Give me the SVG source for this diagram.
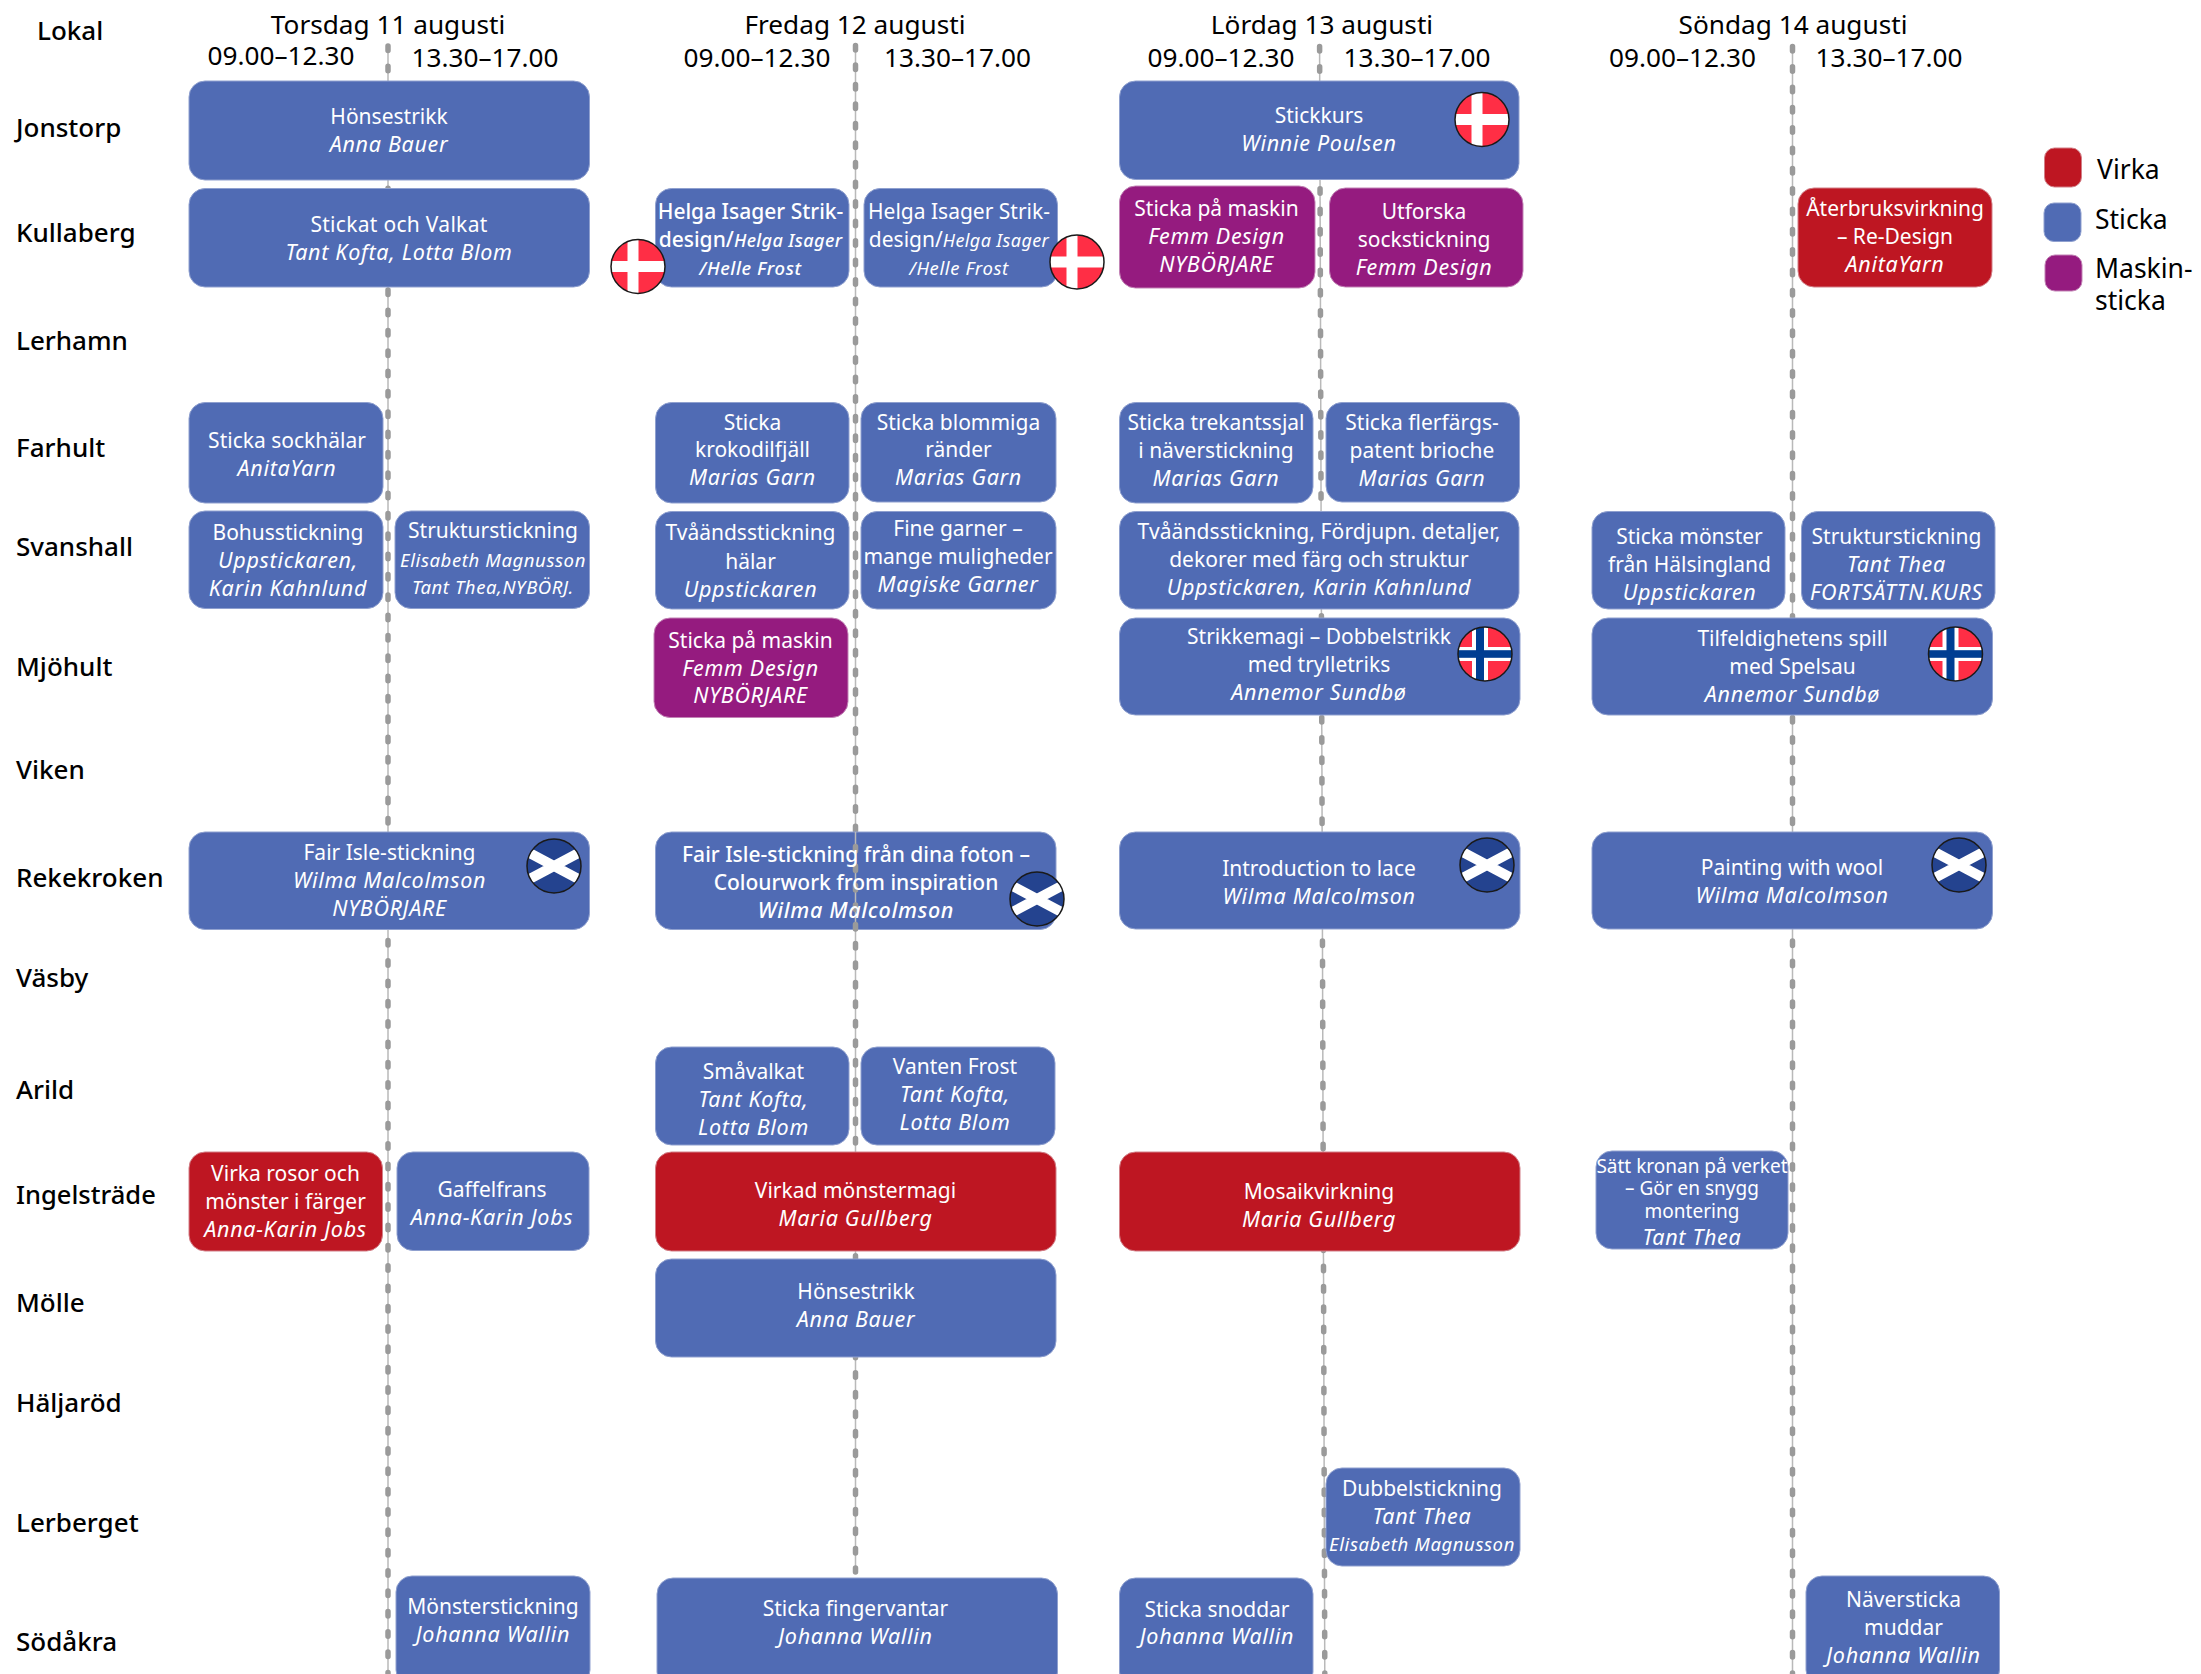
<svg xmlns="http://www.w3.org/2000/svg" width="2201" height="1674" viewBox="0 0 2201 1674">
<style>
text{font-family:"Noto Sans","Open Sans","Liberation Sans",sans-serif}
.h{font-size:26.2px;fill:#000;text-anchor:middle}
.r{font-size:26px;font-weight:500;fill:#000}
.l{font-size:26.5px;fill:#000}
.n text{font-size:21px;fill:#fff;text-anchor:middle}
.n .i{font-style:italic;font-size:21.5px;letter-spacing:.7px}
.n .m{font-weight:500}
.n .s{font-size:18.5px;letter-spacing:.6px}
.n .q{font-size:19px}
.b{fill:#506bb4;stroke:#8fa0cf;stroke-width:1}
.v{fill:#be1622;stroke:#d27f87;stroke-width:1}
.p{fill:#951b7f;stroke:#c283b5;stroke-width:1}
.ln{stroke:#b9b9b9;stroke-width:1.5;fill:none}
.ds{stroke:#9a9a9a;stroke-width:5.5;stroke-linecap:round;stroke-dasharray:4.5 15.83;fill:none}
.d2{stroke-dasharray:4.5 15.02}
.fl{stroke:#1a1a1a;stroke-width:1.5;fill:none}
</style>
<defs>
<clipPath id="cc"><circle r="27"/></clipPath>
<g id="dk"><g clip-path="url(#cc)"><rect x="-28" y="-28" width="56" height="56" fill="#ff2e45"/><rect x="-10.500" y="-28" width="11" height="56" fill="#fff"/><rect x="-28" y="-5.500" width="56" height="11" fill="#fff"/></g><circle r="27" class="fl"/></g>
<g id="no"><g clip-path="url(#cc)"><rect x="-28" y="-28" width="56" height="56" fill="#ff2e45"/><rect x="-13" y="-28" width="16" height="56" fill="#fff"/><rect x="-28" y="-7" width="56" height="14" fill="#fff"/><rect x="-9" y="-28" width="8" height="56" fill="#003e92"/><rect x="-28" y="-3.800" width="56" height="7.600" fill="#003e92"/></g><circle r="27" class="fl"/></g>
<g id="sc"><g clip-path="url(#cc)"><rect x="-28" y="-28" width="56" height="56" fill="#24438f"/><path d="M-30,-16 L30,16 M-30,16 L30,-16" stroke="#fff" stroke-width="10" fill="none"/></g><circle r="27" class="fl"/></g>
</defs>
<rect width="2201" height="1674" fill="#fff"/>

<g id="connectors">
<path class="ln" d="M388,44V1674"/><path class="ds" d="M388,46V1674"/>
<path class="ln" d="M855.500,44V1572"/><path class="ds d2" d="M855.500,45.500V1572"/>
<path class="ln" d="M1319.600,44L1324.800,1674"/><path class="ds" d="M1319.600,46.500L1324.800,1674"/>
<path class="ln" d="M1792.500,44V1674"/><path class="ds" d="M1792.500,46.500V1674"/>
</g>

<g id="headers">
<text class="r" x="37" y="40">Lokal</text>
<text class="h" x="388" y="34">Torsdag 11 augusti</text><text class="h" x="281" y="65">09.00–12.30</text><text class="h" x="485" y="67">13.30–17.00</text>
<text class="h" x="855" y="34">Fredag 12 augusti</text><text class="h" x="757" y="67">09.00–12.30</text><text class="h" x="957.500" y="67">13.30–17.00</text>
<text class="h" x="1322" y="34">Lördag 13 augusti</text><text class="h" x="1221" y="67">09.00–12.30</text><text class="h" x="1417" y="67">13.30–17.00</text>
<text class="h" x="1793" y="34">Söndag 14 augusti</text><text class="h" x="1682.500" y="67">09.00–12.30</text><text class="h" x="1889" y="67">13.30–17.00</text>
</g>
<g id="rows">
<text class="r" x="16" y="137">Jonstorp</text>
<text class="r" x="16" y="242">Kullaberg</text>
<text class="r" x="16" y="350">Lerhamn</text>
<text class="r" x="16" y="456.500">Farhult</text>
<text class="r" x="16" y="556">Svanshall</text>
<text class="r" x="16" y="676">Mjöhult</text>
<text class="r" x="16" y="778.500">Viken</text>
<text class="r" x="16" y="887">Rekekroken</text>
<text class="r" x="16" y="987">Väsby</text>
<text class="r" x="16" y="1099">Arild</text>
<text class="r" x="16" y="1204" style="font-size:25.5px">Ingelsträde</text>
<text class="r" x="16" y="1312">Mölle</text>
<text class="r" x="16" y="1412">Häljaröd</text>
<text class="r" x="16" y="1532">Lerberget</text>
<text class="r" x="16" y="1651">Södåkra</text>
</g>

<g id="n01" class="n"><rect class="b" x="189" y="81" width="400.500" height="99" rx="16"/><text x="389" y="124">Hönsestrikk</text><text class="i" x="389" y="151.500">Anna Bauer</text></g>
<g id="n02" class="n"><rect class="b" x="189" y="188.500" width="400.500" height="98.500" rx="16"/><text x="399" y="231.500" style="letter-spacing:.3px">Stickat och Valkat</text><text class="i" x="399" y="259.500">Tant Kofta, Lotta Blom</text></g>
<g id="n03" class="n"><rect class="b" x="189" y="402.500" width="194" height="100.500" rx="16"/><text x="287" y="447.500">Sticka sockhälar</text><text class="i" x="287" y="475.500">AnitaYarn</text></g>
<g id="n04" class="n"><rect class="b" x="189" y="511" width="194" height="97.500" rx="16"/><text x="288" y="540">Bohusstickning</text><text class="i" x="288" y="568">Uppstickaren,</text><text class="i" x="288" y="596">Karin Kahnlund</text></g>
<g id="n05" class="n"><rect class="b" x="395" y="511" width="194.500" height="97.500" rx="16"/><text x="493" y="538">Strukturstickning</text><text class="i s" x="493" y="566.500">Elisabeth Magnusson</text><text class="i s" x="493" y="594">Tant Thea,NYBÖRJ.</text></g>
<g id="n06" class="n"><rect class="b" x="189" y="832" width="400.500" height="97.500" rx="16"/><text x="389.500" y="860">Fair Isle-stickning</text><text class="i" x="389.500" y="888">Wilma Malcolmson</text><text class="i" x="389.500" y="916">NYBÖRJARE</text><use href="#sc" x="554" y="866"/></g>
<g id="n07" class="n"><rect class="v" x="189" y="1152" width="193.500" height="99" rx="16"/><text x="285.500" y="1180.500">Virka rosor och</text><text x="285.500" y="1208.500">mönster i färger</text><text class="i" x="285.500" y="1236.500">Anna-Karin Jobs</text></g>
<g id="n08" class="n"><rect class="b" x="397" y="1152" width="192" height="98.500" rx="16"/><text x="492" y="1196.500">Gaffelfrans</text><text class="i" x="492" y="1224.500">Anna-Karin Jobs</text></g>
<g id="n09" class="n"><rect class="b" x="396" y="1576" width="194" height="110" rx="16"/><text x="493" y="1614">Mönsterstickning</text><text class="i" x="493" y="1642">Johanna Wallin</text></g>

<g id="n10" class="n"><rect class="b" x="655.500" y="188.500" width="193.500" height="98.500" rx="16"/><text class="m" x="750.500" y="218.500">Helga Isager Strik-</text><text x="750.500" y="247"><tspan class="m">design/</tspan><tspan class="i m" style="font-size:18px;letter-spacing:.4px">Helga Isager</tspan></text><text class="i m s" x="750.500" y="274.500">/Helle Frost</text><use href="#dk" x="638" y="266.500"/></g>
<g id="n11" class="n"><rect class="b" x="864" y="188.500" width="193.500" height="98.500" rx="16"/><text x="959" y="218.500">Helga Isager Strik-</text><text x="959" y="247">design/<tspan class="i" style="font-size:18px;letter-spacing:.4px">Helga Isager</tspan></text><text class="i s" x="959" y="274.500">/Helle Frost</text><use href="#dk" x="1077" y="262"/></g>
<g id="n12" class="n"><rect class="b" x="655.500" y="402.500" width="193.500" height="100.500" rx="16"/><text x="752.500" y="429.500">Sticka</text><text x="752.500" y="457">krokodilfjäll</text><text class="i" x="752.500" y="485">Marias Garn</text></g>
<g id="n13" class="n"><rect class="b" x="861" y="402.500" width="195" height="99.500" rx="16"/><text x="958.500" y="429.500">Sticka blommiga</text><text x="958.500" y="457">ränder</text><text class="i" x="958.500" y="485">Marias Garn</text></g>
<g id="n14" class="n"><rect class="b" x="655.500" y="511.500" width="193.500" height="97.500" rx="16"/><text x="750.500" y="540">Tvåändsstickning</text><text x="750.500" y="568.500">hälar</text><text class="i" x="750.500" y="596.500">Uppstickaren</text></g>
<g id="n15" class="n"><rect class="b" x="861" y="511.500" width="195" height="97.500" rx="16"/><text x="958" y="535.500">Fine garner –</text><text x="958" y="563.500">mange muligheder</text><text class="i" x="958" y="591.500">Magiske Garner</text></g>
<g id="n16" class="n"><rect class="p" x="654" y="618" width="194" height="99.500" rx="16"/><text x="750.500" y="647.500">Sticka på maskin</text><text class="i" x="750.500" y="675.500">Femm Design</text><text class="i" x="750.500" y="703">NYBÖRJARE</text></g>
<g id="n17" class="n"><rect class="b" x="655.500" y="832" width="400.500" height="97.500" rx="16"/><path class="ln" d="M855.500,832V929"/><path class="ds d2" d="M855.500,846.500V929"/><text class="m" x="856" y="862">Fair Isle-stickning från dina foton –</text><text class="m" x="856" y="890">Colourwork from inspiration</text><text class="i m" x="856" y="918">Wilma Malcolmson</text><use href="#sc" x="1037" y="899"/></g>
<g id="n18" class="n"><rect class="b" x="655.500" y="1047" width="193.500" height="98" rx="16"/><text x="753.500" y="1078.500">Småvalkat</text><text class="i" x="753.500" y="1106.500">Tant Kofta,</text><text class="i" x="753.500" y="1135">Lotta Blom</text></g>
<g id="n19" class="n"><rect class="b" x="861" y="1047" width="194" height="98" rx="16"/><text x="955" y="1074">Vanten Frost</text><text class="i" x="955" y="1102">Tant Kofta,</text><text class="i" x="955" y="1130">Lotta Blom</text></g>
<g id="n20" class="n"><rect class="v" x="655.500" y="1152" width="400.500" height="99" rx="16"/><text x="855.500" y="1197.500">Virkad mönstermagi</text><text class="i" x="855.500" y="1225.500">Maria Gullberg</text></g>
<g id="n21" class="n"><rect class="b" x="655.500" y="1259" width="400.500" height="98" rx="16"/><text x="856" y="1299">Hönsestrikk</text><text class="i" x="856" y="1326.500">Anna Bauer</text></g>
<g id="n22" class="n"><rect class="b" x="657" y="1578" width="400.500" height="110" rx="16"/><text x="855.500" y="1616">Sticka fingervantar</text><text class="i" x="855.500" y="1644">Johanna Wallin</text></g>

<g id="n23" class="n"><rect class="b" x="1119.500" y="81" width="399.500" height="98.500" rx="16"/><text x="1319" y="123">Stickkurs</text><text class="i" x="1319" y="151">Winnie Poulsen</text><use href="#dk" x="1482" y="119.500"/></g>
<g id="n24" class="n"><rect class="p" x="1119.500" y="186" width="195.500" height="102" rx="16"/><text x="1216.500" y="216">Sticka på maskin</text><text class="i" x="1216.500" y="244">Femm Design</text><text class="i" x="1216.500" y="272">NYBÖRJARE</text></g>
<g id="n25" class="n"><rect class="p" x="1329.500" y="188" width="193.500" height="99" rx="16"/><text x="1424" y="218.500">Utforska</text><text x="1424" y="246.500">sockstickning</text><text class="i" x="1424" y="274.500">Femm Design</text></g>
<g id="n26" class="n"><rect class="b" x="1119.500" y="402.500" width="193.500" height="100.500" rx="16"/><text x="1216" y="429.500">Sticka trekantssjal</text><text x="1216" y="457.500">i näverstickning</text><text class="i" x="1216" y="485.500">Marias Garn</text></g>
<g id="n27" class="n"><rect class="b" x="1326" y="402.500" width="193.500" height="99.500" rx="16"/><text x="1422" y="429.500">Sticka flerfärgs-</text><text x="1422" y="457.500">patent brioche</text><text class="i" x="1422" y="485.500">Marias Garn</text></g>
<g id="n28" class="n"><rect class="b" x="1119.500" y="511.500" width="399.500" height="97.500" rx="16"/><text x="1319" y="538.500" style="letter-spacing:.1px">Tvåändsstickning, Fördjupn. detaljer,</text><text x="1319" y="566.500">dekorer med färg och struktur</text><text class="i" x="1319" y="594.500">Uppstickaren, Karin Kahnlund</text></g>
<g id="n29" class="n"><rect class="b" x="1119.500" y="618" width="400.500" height="97" rx="16"/><text x="1319" y="644">Strikkemagi – Dobbelstrikk</text><text x="1319" y="672">med trylletriks</text><text class="i" x="1319" y="700">Annemor Sundbø</text><use href="#no" x="1485" y="654"/></g>
<g id="n30" class="n"><rect class="b" x="1119.500" y="832" width="400.500" height="97" rx="16"/><text x="1319" y="876">Introduction to lace</text><text class="i" x="1319" y="903.500">Wilma Malcolmson</text><use href="#sc" x="1487" y="865"/></g>
<g id="n31" class="n"><rect class="v" x="1119.500" y="1152" width="400.500" height="99" rx="16"/><text x="1319" y="1198.500">Mosaikvirkning</text><text class="i" x="1319" y="1226.500">Maria Gullberg</text></g>
<g id="n32" class="n"><rect class="b" x="1326" y="1468" width="194" height="98" rx="16"/><text x="1422" y="1495.500">Dubbelstickning</text><text class="i" x="1422" y="1523.500">Tant Thea</text><text class="i s" x="1422" y="1550.500">Elisabeth Magnusson</text></g>
<g id="n33" class="n"><rect class="b" x="1119.500" y="1578" width="193.500" height="110" rx="16"/><text x="1217" y="1616.500">Sticka snoddar</text><text class="i" x="1217" y="1644">Johanna Wallin</text></g>

<g id="n34" class="n"><rect class="v" x="1798" y="188" width="194" height="99" rx="16"/><text x="1895" y="216">Återbruksvirkning</text><text x="1895" y="244">– Re-Design</text><text class="i" x="1895" y="272">AnitaYarn</text></g>
<g id="n35" class="n"><rect class="b" x="1592" y="511.500" width="193" height="97.500" rx="16"/><text x="1689.500" y="543.500">Sticka mönster</text><text x="1689.500" y="571.500">från Hälsingland</text><text class="i" x="1689.500" y="599.500">Uppstickaren</text></g>
<g id="n36" class="n"><rect class="b" x="1801.500" y="511.500" width="193.500" height="97.500" rx="16"/><text x="1896.500" y="543.500">Strukturstickning</text><text class="i" x="1896.500" y="571.500">Tant Thea</text><text class="i" x="1896.500" y="599.500">FORTSÄTTN.KURS</text></g>
<g id="n37" class="n"><rect class="b" x="1592" y="618" width="400.500" height="97" rx="16"/><text x="1792.500" y="645.500">Tilfeldighetens spill</text><text x="1792.500" y="673.500">med Spelsau</text><text class="i" x="1792.500" y="701.500">Annemor Sundbø</text><use href="#no" x="1955.500" y="654"/></g>
<g id="n38" class="n"><rect class="b" x="1592" y="832" width="400.500" height="97" rx="16"/><text x="1792" y="875">Painting with wool</text><text class="i" x="1792" y="902.500">Wilma Malcolmson</text><use href="#sc" x="1959" y="865"/></g>
<g id="n39" class="n"><rect class="b" x="1596" y="1151" width="192" height="98" rx="16"/><text class="q" x="1692" y="1172.500">Sätt kronan på verket</text><text class="q" x="1692" y="1194.500">– Gör en snygg</text><text class="q" x="1692" y="1217.500">montering</text><text class="i" x="1692" y="1245">Tant Thea</text></g>
<g id="n40" class="n"><rect class="b" x="1806" y="1576" width="193.500" height="110" rx="16"/><text x="1903.500" y="1606.500">Näversticka</text><text x="1903.500" y="1634.500">muddar</text><text class="i" x="1903.500" y="1662.500">Johanna Wallin</text></g>

<g id="legend">
<rect class="v" x="2044.500" y="148" width="37" height="39" rx="10"/><text class="l" x="2097" y="179">Virka</text>
<rect class="b" x="2044" y="203" width="37" height="38.500" rx="10"/><text class="l" x="2095" y="229">Sticka</text>
<rect class="p" x="2045" y="255" width="37" height="36" rx="10"/><text class="l" x="2095" y="278">Maskin-</text><text class="l" x="2095" y="310">sticka</text>
</g>
</svg>
